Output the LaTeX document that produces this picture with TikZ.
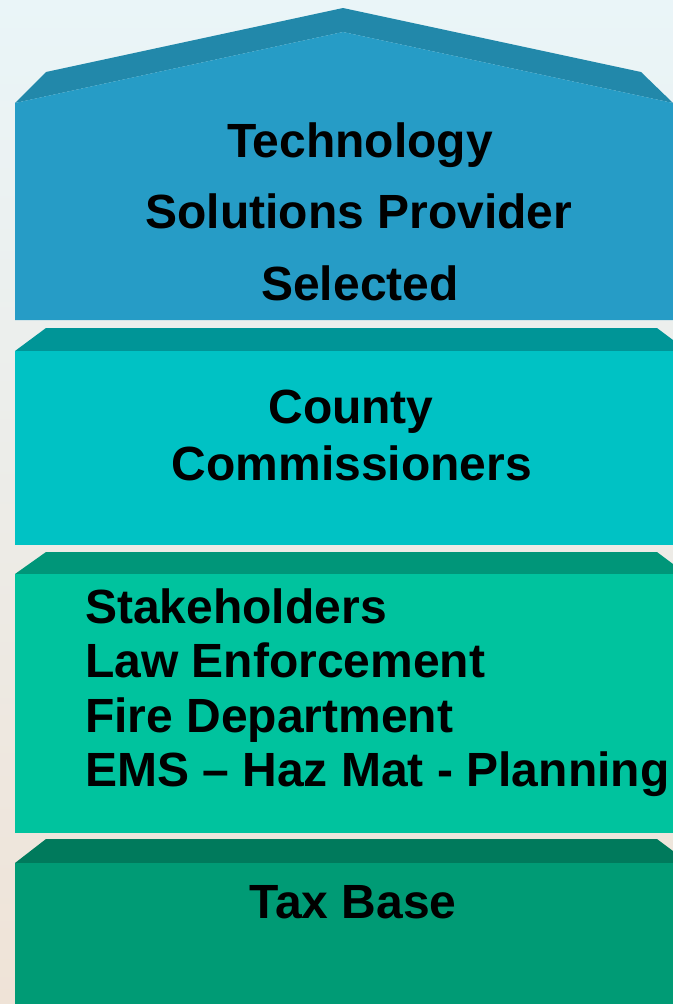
\documentclass[tikz,border=0pt]{standalone}
\usepackage{fontspec}
\setmainfont{Liberation Sans}
\definecolor{bgtop}{HTML}{EAF5F8}
\definecolor{bgbot}{HTML}{EFE3D7}
\definecolor{oneF}{HTML}{269CC6}
\definecolor{oneT}{HTML}{2288AA}
\definecolor{twoF}{HTML}{00C2C4}
\definecolor{twoT}{HTML}{009597}
\definecolor{thrF}{HTML}{00C39E}
\definecolor{thrT}{HTML}{009679}
\definecolor{fouF}{HTML}{009B75}
\definecolor{fouT}{HTML}{007A5C}
\tikzset{
  lbl/.style={font=\fontsize{36pt}{40pt}\selectfont\bfseries, text=black, inner sep=0pt},
}
\begin{document}
\begin{tikzpicture}[x=0.75pt,y=-0.75pt]
\useasboundingbox (0,0) rectangle (673,1004);
\shade[top color=bgtop, bottom color=bgbot] (0,0) rectangle (673,1004);
% Block 1 (roof)
\fill[oneT] (15,103) -- (46,72) -- (343,8) -- (641,72) -- (673,103) -- (343,32) -- cycle;
\fill[oneF] (15,103) -- (343,32) -- (673,103) -- (673,320) -- (15,320) -- cycle;
% Block 2
\fill[twoT] (15,351) -- (46,328) -- (657,328) -- (673,340) -- (673,351) -- cycle;
\fill[twoF] (15,351) rectangle (673,545);
% Block 3
\fill[thrT] (15,574) -- (46,552) -- (657,552) -- (673,564) -- (673,574) -- cycle;
\fill[thrF] (15,574) rectangle (673,833);
% Block 4
\fill[fouT] (15,863) -- (46,839) -- (657,839) -- (673,851) -- (673,863) -- cycle;
\fill[fouF] (15,863) rectangle (673,1004);
% Texts
\node[lbl, anchor=base] (t1) at (360,157.5) {Technology};
\node[lbl, anchor=base] (t2) at (359,228) {Solutions Provider};
\node[lbl, anchor=base] (t3) at (360,300) {Selected};
\node[lbl, anchor=base] (c1) at (351,423) {County};
\node[lbl, anchor=base] (c2) at (352,480) {Commissioners};
\node[lbl, anchor=base west] (s1) at (85,623) {Stakeholders};
\node[lbl, anchor=base west] (s2) at (85,677) {Law Enforcement};
\node[lbl, anchor=base west] (s3) at (85,732) {Fire Department};
\node[lbl, anchor=base west] (s4) at (85,786) {EMS – Haz Mat - Planning};
\node[lbl, anchor=base] (tb) at (353,918) {Tax Base};
\end{tikzpicture}
\end{document}
